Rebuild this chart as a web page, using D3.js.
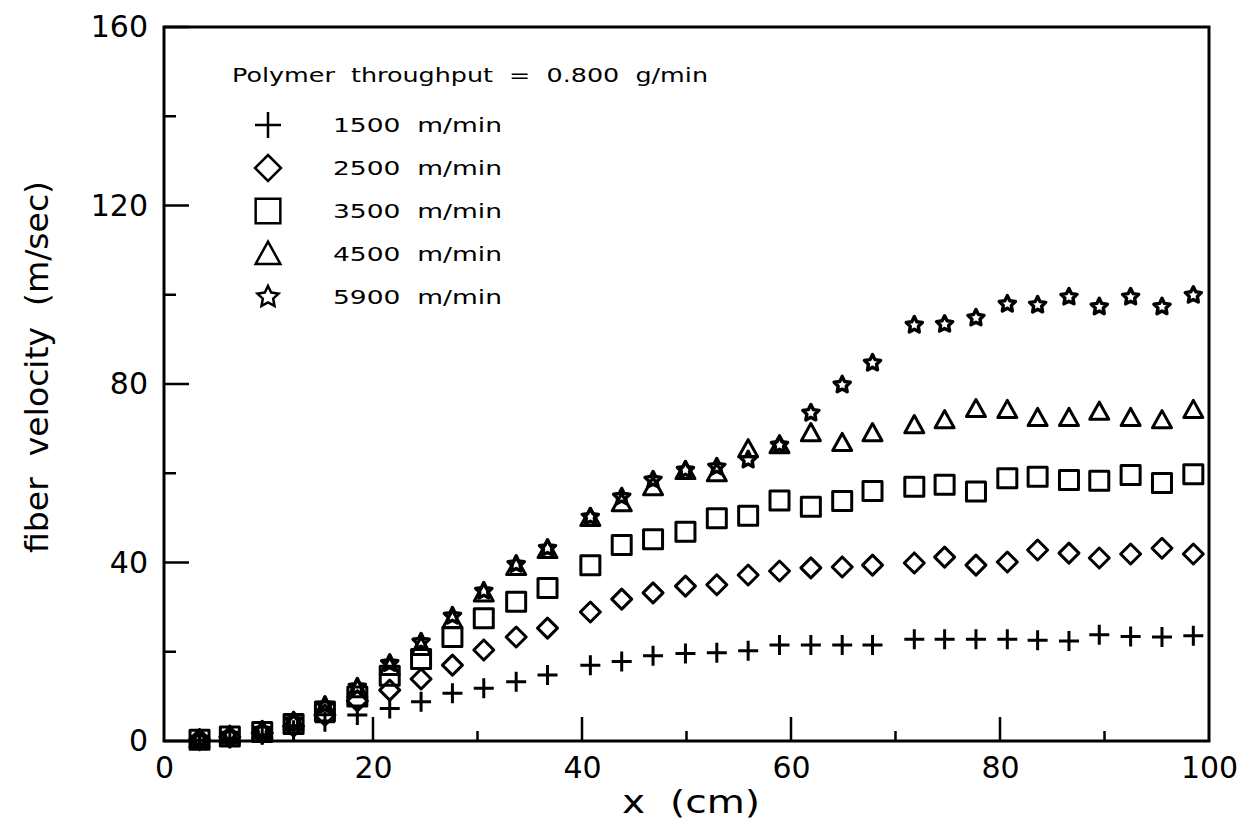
<!DOCTYPE html>
<html>
<head>
<meta charset="utf-8">
<script src="https://cdn.jsdelivr.net/npm/d3@7"></script>
<style>
  body { margin: 0; background: #fff; }
  text { font-family: "DejaVu Sans", sans-serif; fill: #000; }
</style>
</head>
<body>
<div id="chart"></div>
<script>
// Data
var xValues = [3.4, 6.3, 9.4, 12.4, 15.4, 18.5, 21.6, 24.6, 27.6, 30.6, 33.7, 36.7,
  40.8, 43.8, 46.8, 49.9, 52.9, 55.9, 58.9, 61.9, 64.9, 67.8,
  71.8, 74.7, 77.7, 80.7, 83.6, 86.6, 89.5, 92.5, 95.5, 98.5];

var v1500 = [0.2, 0.6, 1.4, 2.4, 4.3, 5.8, 7.3, 8.8, 10.7, 11.8, 13.3, 14.8,
  17.0, 17.8, 19.1, 19.6, 19.8, 20.2, 21.5, 21.5, 21.5, 21.5,
  22.8, 22.8, 22.8, 22.8, 22.6, 22.4, 23.8, 23.4, 23.3, 23.6];
var v2500 = [0.3, 0.9, 1.8, 3.3, 5.8, 9.0, 11.4, 13.9, 17.0, 20.4, 23.3, 25.3,
  28.9, 31.8, 33.2, 34.7, 35.0, 37.2, 38.1, 38.8, 39.0, 39.4,
  39.9, 41.2, 39.4, 40.1, 42.8, 42.1, 41.0, 41.9, 43.2, 41.9];
var v3500 = [0.3, 1.0, 2.0, 3.8, 6.6, 10.0, 14.6, 18.4, 23.3, 27.5, 31.2, 34.3,
  39.4, 43.9, 45.2, 46.9, 49.9, 50.5, 53.9, 52.5, 53.8, 56.0,
  57.0, 57.4, 55.9, 58.9, 59.2, 58.5, 58.3, 59.6, 57.8, 59.8];
var v4500 = [0.4, 1.2, 2.3, 4.3, 7.6, 11.6, 16.6, 21.1, 27.1, 33.1, 39.0, 42.8,
  50.0, 53.3, 56.9, 60.5, 60.0, 65.4, 66.3, 69.0, 66.8, 69.0,
  70.8, 71.9, 74.4, 74.2, 72.4, 72.4, 73.8, 72.4, 71.9, 74.2];
var v5900 = [0.4, 1.3, 2.4, 4.5, 8.0, 12.1, 17.4, 22.2, 28.0, 33.6, 39.6, 43.2,
  50.2, 54.7, 58.5, 60.7, 61.4, 63.0, 66.3, 73.5, 79.8, 84.7,
  93.2, 93.4, 94.8, 97.9, 97.7, 99.5, 97.3, 99.5, 97.3, 99.9];

var seriesLabels = ["1500  m/min", "2500  m/min", "3500  m/min", "4500  m/min", "5900  m/min"];
var seriesShapes = ["plus", "diamond", "square", "triangle", "star"];
var seriesValues = [v1500, v2500, v3500, v4500, v5900];

var xTicks = [0, 20, 40, 60, 80, 100];
var yTicks = [0, 40, 80, 120, 160];

// SVG dimensions
var svgWidth = 1246;
var svgHeight = 826;
var margin = { top: 27, right: 37, bottom: 85, left: 164 };
var width = svgWidth - margin.left - margin.right;
var height = svgHeight - margin.top - margin.bottom;

var svg = d3.select("#chart")
  .append("svg")
  .attr("width", svgWidth)
  .attr("height", svgHeight);

var chartGroup = svg.append("g")
  .attr("transform", `translate(${margin.left}, ${margin.top})`);

var xScale = d3.scaleLinear().domain([0, 100]).range([0, width]);
var yScale = d3.scaleLinear().domain([0, 160]).range([height, 0]);

// marker path builders
function markerPath(shape, s) {
  var p = d3.path();
  if (shape === "plus") {
    p.moveTo(-s, 0); p.lineTo(s, 0);
    p.moveTo(0, -s); p.lineTo(0, s);
  } else if (shape === "diamond") {
    p.moveTo(0, -s); p.lineTo(s, 0); p.lineTo(0, s); p.lineTo(-s, 0); p.closePath();
  } else if (shape === "square") {
    var h = s * 0.95;
    p.rect(-h, -h, 2 * h, 2 * h);
  } else if (shape === "triangle") {
    var t = s * 0.95;
    p.moveTo(0, -t); p.lineTo(t, t * 0.8); p.lineTo(-t, t * 0.8); p.closePath();
  } else if (shape === "star") {
    var ro = s * 0.85, ri = s * 0.42;
    for (var i = 0; i < 10; i++) {
      var r = i % 2 === 0 ? ro : ri;
      var a = -Math.PI / 2 + i * Math.PI / 5;
      if (i === 0) p.moveTo(r * Math.cos(a), r * Math.sin(a));
      else p.lineTo(r * Math.cos(a), r * Math.sin(a));
    }
    p.closePath();
  }
  return p.toString();
}

// Frame
chartGroup.append("rect")
  .attr("x", 0).attr("y", 0)
  .attr("width", width).attr("height", height)
  .attr("fill", "none")
  .attr("stroke", "#000")
  .attr("stroke-width", 3);

// Y axis (ticks inside)
var leftAxis = d3.axisLeft(yScale).tickValues(yTicks).tickSize(0).tickPadding(16);
var yAxisG = chartGroup.append("g").call(leftAxis);
yAxisG.select(".domain").remove();
yAxisG.selectAll("text").style("font-size", "30px").attr("font-family", "DejaVu Sans");

chartGroup.selectAll(".ytick")
  .data(d3.range(0, 161, 20))
  .enter().append("line")
  .attr("x1", 0)
  .attr("x2", d => d % 40 === 0 ? 25 : 12)
  .attr("y1", d => yScale(d))
  .attr("y2", d => yScale(d))
  .attr("stroke", "#000")
  .attr("stroke-width", 2.5);

// X axis (ticks inside)
var bottomAxis = d3.axisBottom(xScale).tickValues(xTicks).tickSize(0).tickPadding(16);
var xAxisG = chartGroup.append("g")
  .attr("transform", `translate(0, ${height})`)
  .call(bottomAxis);
xAxisG.select(".domain").remove();
xAxisG.selectAll("text").style("font-size", "30px").attr("font-family", "DejaVu Sans");

chartGroup.selectAll(".xtick")
  .data(d3.range(10, 100, 10))
  .enter().append("line")
  .attr("x1", d => xScale(d))
  .attr("x2", d => xScale(d))
  .attr("y1", height)
  .attr("y2", d => d % 20 === 0 ? height - 24 : height - 10)
  .attr("stroke", "#000")
  .attr("stroke-width", 2.5);

// Markers
seriesValues.forEach(function(vals, si) {
  var shape = seriesShapes[si];
  chartGroup.append("g")
    .selectAll("path")
    .data(vals.map((v, i) => ({ x: xValues[i], y: v })))
    .enter()
    .append("path")
    .attr("transform", d => `translate(${xScale(d.x)}, ${yScale(d.y)})`)
    .attr("d", markerPath(shape, 10))
    .attr("fill", "none")
    .attr("stroke", "#000")
    .attr("stroke-width", shape === "star" ? 3.4 : 3)
    .attr("stroke-linejoin", "round");
});

// Legend
var legend = chartGroup.append("g");
legend.append("text")
  .attr("x", 232 - margin.left)
  .attr("y", 82 - margin.top)
  .attr("textLength", 476)
  .attr("lengthAdjust", "spacingAndGlyphs")
  .style("font-size", "19px")
  .attr("xml:space", "preserve")
  .text("Polymer  throughput  =  0.800  g/min");

seriesLabels.forEach(function(label, i) {
  var cy = 125 + i * 43 - margin.top;
  legend.append("path")
    .attr("transform", `translate(${268 - margin.left}, ${cy})`)
    .attr("d", markerPath(seriesShapes[i], 13))
    .attr("fill", "none")
    .attr("stroke", "#000")
    .attr("stroke-width", 2.5);
  legend.append("text")
    .attr("x", 333 - margin.left)
    .attr("y", cy + 7)
    .attr("textLength", 169)
    .attr("lengthAdjust", "spacingAndGlyphs")
    .style("font-size", "20px")
    .attr("xml:space", "preserve")
    .text(label);
});

// Y Axis Label
chartGroup.append("text")
  .attr("transform", "rotate(-90)")
  .attr("x", -(367 - margin.top))
  .attr("y", 48 - margin.left)
  .attr("textLength", 372)
  .attr("lengthAdjust", "spacingAndGlyphs")
  .style("text-anchor", "middle")
  .style("font-size", "32px")
  .attr("xml:space", "preserve")
  .text("fiber  velocity  (m/sec)");

// X Axis Label
chartGroup.append("text")
  .attr("x", 691 - margin.left)
  .attr("y", 813 - margin.top)
  .attr("textLength", 138)
  .attr("lengthAdjust", "spacingAndGlyphs")
  .style("text-anchor", "middle")
  .style("font-size", "32px")
  .attr("xml:space", "preserve")
  .text("x  (cm)");
</script>
</body>
</html>
